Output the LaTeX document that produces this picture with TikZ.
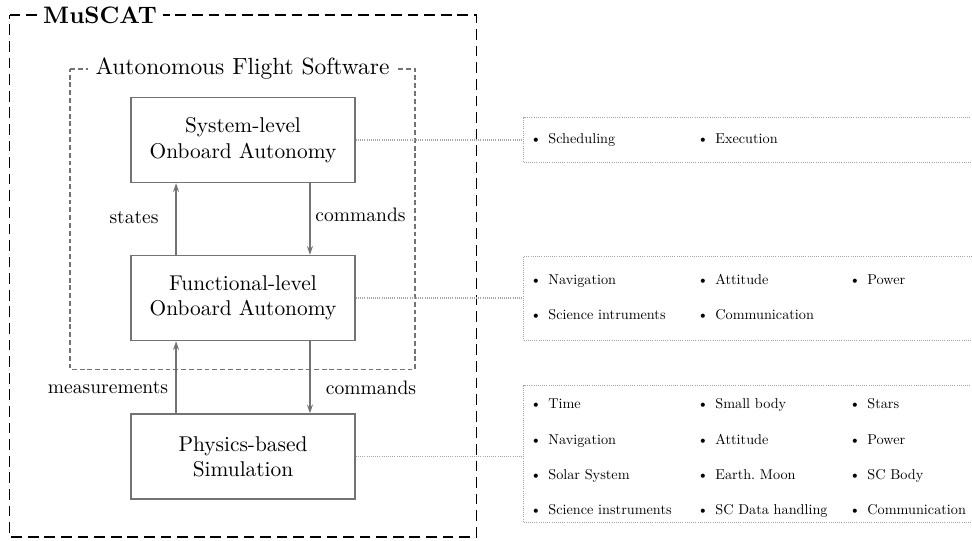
\documentclass[tikz,border=0pt]{standalone}
\usepackage{fontspec}
\setmainfont{lmroman10-regular}[Extension=.otf, BoldFont=lmroman10-bold]
\usetikzlibrary{arrows.meta}
\tikzset{
  block/.style={draw=black!55, line width=0.8pt, minimum width=114.8pt, minimum height=43.4pt,
    align=center, inner sep=0pt, font=\fontsize{10.95}{13}\selectfont},
  flow/.style={-{Stealth[length=4.5pt,width=3pt,inset=1.5pt]}, draw=black!55, fill=black!55, line width=0.8pt},
  flowlabel/.style={inner sep=0pt, font=\fontsize{10}{12}\selectfont},
  frame/.style={draw=black, line width=1pt, dash pattern=on 5.5pt off 3pt},
  afsframe/.style={draw=black!55, line width=0.8pt, dash pattern=on 2.5pt off 1.5pt},
  framelabel/.style={fill=white, inner ysep=1pt},
  listbox/.style={draw=black!35, line width=0.6pt, dash pattern=on 0.5pt off 0.6pt,
    anchor=north west, inner sep=0pt, minimum width=234pt},
  link/.style={draw=black!35, line width=0.6pt, dash pattern=on 0.5pt off 0.6pt},
  item/.style={anchor=base west, inner sep=0pt, font=\fontsize{7.3}{9}\selectfont\frenchspacing},
}
\begin{document}
\begin{tikzpicture}[x=0.5123pt, y=-0.5123pt]
  \clip (0,0) rectangle (972,540);

  % Rahmen
  \draw[frame] (9.5,15) -- (476.5,15) -- (476.5,537) -- (9.5,537) -- cycle;
  \draw[afsframe] (70,69) -- (415,69) -- (415,369.5) -- (70,369.5) -- cycle;
  \node[framelabel, anchor=west, inner xsep=3pt, font=\fontsize{12.2}{14}\selectfont\bfseries]
    (muscatlabel) at (37,15) {MuSCAT~};
  \node[framelabel, inner xsep=4pt, font=\fontsize{12}{14}\selectfont]
    (afslabel) at (242.5,69) {Autonomous Flight Software};

  % Bloecke
  \node[block] (sys) at (243,140) {System-level\\Onboard Autonomy};
  \node[block] (func) at (243,298) {Functional-level\\Onboard Autonomy};
  \node[block] (phys) at (243,456.5) {Physics-based\\Simulation};

  \draw[flow] ([xshift=-34.3pt]func.north) -- ([xshift=-34.3pt]sys.south);
  \draw[flow] ([xshift=34.3pt]sys.south) -- ([xshift=34.3pt]func.north);
  \draw[flow] ([xshift=-34.3pt]phys.north) -- ([xshift=-34.3pt]func.south);
  \draw[flow] ([xshift=34.3pt]func.south) -- ([xshift=34.3pt]phys.north);

  \node[flowlabel] (states) at (134,218) {states};
  \node[flowlabel] (cmdup) at (360.5,215) {commands};
  \node[flowlabel] (meas) at (108,388) {measurements};
  \node[flowlabel] (cmddown) at (371,388) {commands};

  % Listen rechts
  \node[listbox, minimum height=22.7pt] (lst1) at (523,117.3) {};
  \node[listbox, minimum height=43.2pt] (lst2) at (523,255.7) {};
  \node[listbox, minimum height=70pt] (lst3) at (523,385) {};

  \draw[link] (sys.east) -- (sys.east -| lst1.west);
  \draw[link] (func.east) -- (func.east -| lst2.west);
  \draw[link] (phys.east) -- (phys.east -| lst3.west);

  \foreach \x/\y/\txt [count=\i] in {
      530/143.3/Scheduling, 697/143.3/Execution,
      530/284.7/Navigation, 697/284.7/Attitude, 849/284.7/Power,
      530/319/Science intruments, 697/319/Communication,
      530/408.3/Time, 697/408.3/Small body, 849/408.3/Stars,
      530/444/Navigation, 697/444/Attitude, 849/444/Power,
      530/479/Solar System, 697/479/Earth. Moon, 849/479/SC Body,
      530/514/Science instruments, 697/514/SC Data handling, 849/514/Communication} {
    \node[item] (item\i) at (\x,\y) {\makebox[9.2pt][l]{\textbullet}\txt};
  }
\end{tikzpicture}
\end{document}
